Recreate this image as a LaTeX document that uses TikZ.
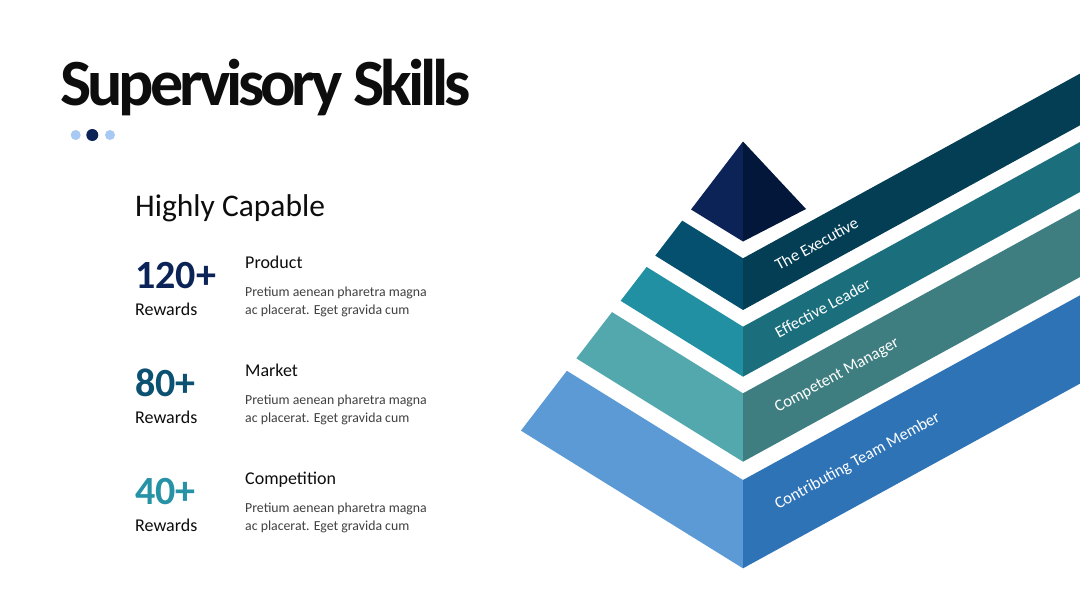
\documentclass[tikz,border=0pt]{standalone}
\usepackage{fontspec}
\setmainfont{Carlito}
\newfontfamily\titlefont[LetterSpace=-6.2]{Carlito}
\usepackage{xcolor}
\definecolor{inkBlack}{HTML}{0D0D0D}
\definecolor{bodyGrey}{HTML}{404040}
\definecolor{dotLight}{HTML}{A9C9F5}
\definecolor{numNavy}{HTML}{0B2357}
\definecolor{numTeal}{HTML}{0B5172}
\definecolor{numAqua}{HTML}{2692A6}
\definecolor{peakL}{HTML}{0C2358}
\definecolor{peakR}{HTML}{03173A}
\definecolor{lvlOneL}{HTML}{04506E}
\definecolor{lvlOneR}{HTML}{043E55}
\definecolor{lvlTwoL}{HTML}{2290A3}
\definecolor{lvlTwoR}{HTML}{1B6F7D}
\definecolor{lvlThreeL}{HTML}{53A8AE}
\definecolor{lvlThreeR}{HTML}{3F7E80}
\definecolor{lvlFourL}{HTML}{5B9AD5}
\definecolor{lvlFourR}{HTML}{2F73B7}
\usepackage{tikz}
\usetikzlibrary{positioning,calc}
\tikzstyle{txt}=[inner sep=0pt, anchor=base west]
\tikzstyle{bignum}=[txt, font=\fontsize{40}{44}\selectfont\bfseries]
\tikzstyle{reward}=[txt, text=inkBlack, font=\fontsize{18}{22}\selectfont]
\tikzstyle{rowhead}=[txt, text=inkBlack, font=\fontsize{18}{22}\selectfont]
\tikzstyle{rowbody}=[inner sep=0pt, anchor=north west, align=left, text=bodyGrey, font=\fontsize{13.8}{18.3}\selectfont]
\tikzstyle{bandlabel}=[inner sep=0pt, anchor=west, rotate=28.7, text=white, font=\fontsize{16.5}{18}\selectfont]
\tikzstyle{dot}=[circle, inner sep=0pt, minimum size=10pt]

\begin{document}
\begin{tikzpicture}[x=1pt, y=-1pt]
        \clip (0,0) rectangle (1080,608);
        \fill[white] (0,0) rectangle (1080,608);
        % heading
        \node[txt, text=inkBlack, font=\fontsize{66}{70}\titlefont\bfseries] (title) at (60,105) {Supervisory Skills};
        \node[dot, fill=dotLight] (dotA) at (75.7,135) {};
        \node[dot, fill=numNavy, minimum size=12pt] (dotB) at (92.3,135) {};
        \node[dot, fill=dotLight] (dotC) at (110,135) {};
        \node[txt, text=inkBlack, font=\fontsize{31.5}{34}\selectfont] (capable) at (135,216) {Highly Capable};
        % three rows of figures
        \foreach \num/\col/\head/\i in {120+/numNavy/Product/0,80+/numTeal/Market/1,40+/numAqua/Competition/2}{
          \node[bignum, text=\col] (num\i) at (135,288.3+108*\i) {\num};
          \node[reward] (rew\i) at (135,315+108*\i) {Rewards};
          \node[rowhead] (head\i) at (245,268.3+108*\i) {\head};
          \node[rowbody] (body\i) at (245,286.7+108*\i) {Pretium aenean pharetra magna\\ac placerat. Eget gravida cum};
        }
        % pyramid peak
        \fill[peakL] (743,141.5) -- (691,209.5) -- (743,241.5) -- cycle;
        \fill[peakR] (743,141.5) -- (806,209) -- (743,241.5) -- cycle;
        % levels: left face and right band
        \foreach \t/\b/\lc/\rc in {258.3/310/lvlOneL/lvlOneR,326.7/376.7/lvlTwoL/lvlTwoR,393.3/461.7/lvlThreeL/lvlThreeR,480/568.3/lvlFourL/lvlFourR}{
          \pgfmathsetmacro\dt{0.5203*(\t-141.5)}
          \pgfmathsetmacro\db{0.5203*(\b-141.5)}
          \fill[\lc] (743,\t) -- (743-\dt,\t-0.62*\dt) -- (743-\db,\b-0.62*\db) -- (743,\b) -- cycle;
          \fill[\rc] (743,\t) -- (1143,\t-219.2) -- (1143,\b-219.2) -- (743,\b) -- cycle;
        }
        \foreach \lbl/\cy/\i in {The Executive/266.1/1,Effective Leader/333.6/2,Competent Manager/409.4/3,Contributing Team Member/506.1/4}{
          \node[bandlabel] (band\i) at (776,\cy) {\lbl};
        }
      \end{tikzpicture}
\end{document}
